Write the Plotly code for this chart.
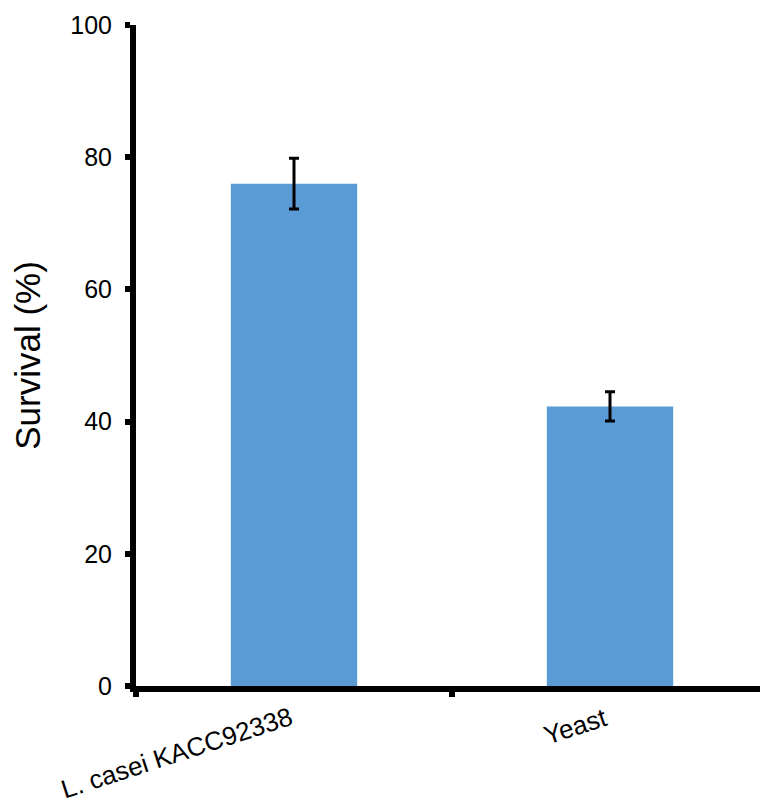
import plotly.graph_objects as go

categories = ["L. casei KACC92338", "Yeast"]
survival = [76.0, 42.3]
errors = [3.85, 2.2]
y_ticks = [0, 20, 40, 60, 80, 100]

fig = go.Figure(
    go.Bar(
        x=categories,
        y=survival,
        marker=dict(color="#5B9BD5", line=dict(width=0)),
        width=0.4,
        error_y=dict(type="data", array=errors, color="black", thickness=3, width=5),
    )
)

font_family = "Liberation Sans, Arial, sans-serif"

fig.update_layout(
    width=768,
    height=806,
    margin=dict(l=128, r=8, t=17, b=128),
    plot_bgcolor="white",
    paper_bgcolor="white",
    showlegend=False,
    font=dict(family=font_family, color="black"),
)

# category labels, rotated, with their top-right corner just under each category centre
for cat in categories:
    fig.add_annotation(
        x=cat,
        y=0,
        xref="x",
        yref="y",
        text=cat,
        showarrow=False,
        textangle=-18,
        xanchor="right",
        yanchor="top",
        yshift=-13,
        xshift=4,
        font=dict(size=26, family=font_family, color="black"),
    )

fig.update_xaxes(
    type="category",
    categoryorder="array",
    categoryarray=categories,
    range=[-0.5, len(categories) - 0.5],
    autorange=False,
    automargin=False,
    showline=True,
    linecolor="black",
    linewidth=6,
    ticks="outside",
    tickson="boundaries",
    ticklen=5,
    tickwidth=6,
    tickcolor="black",
    showticklabels=False,
    showgrid=False,
    zeroline=False,
)

fig.update_yaxes(
    automargin=False,
    range=[0, 100],
    tickvals=y_ticks,
    showline=True,
    linecolor="black",
    linewidth=6,
    ticks="outside",
    ticklen=5,
    tickwidth=6,
    tickcolor="black",
    ticklabelstandoff=8,
    tickfont=dict(size=25, family=font_family, color="black"),
    title=dict(text="Survival (%)", font=dict(size=35, family=font_family, color="black"), standoff=24),
    showgrid=False,
    zeroline=False,
)

fig.write_html("out.html")
